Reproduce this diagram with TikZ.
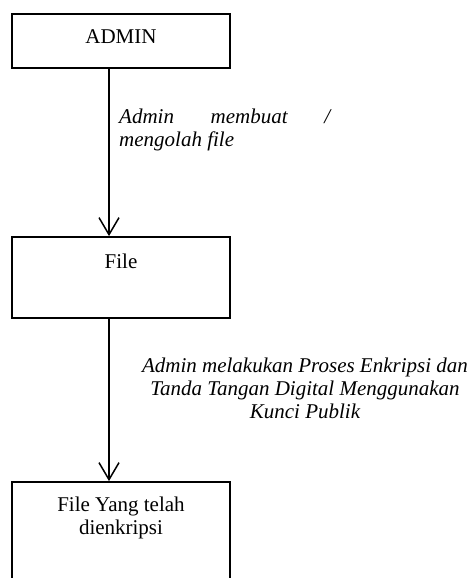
\documentclass[tikz,border=0pt]{standalone}
\usepackage{fontspec}
\setmainfont{Liberation Serif}
\usetikzlibrary{arrows.meta}
\begin{document}
\begin{tikzpicture}[x=1pt,y=-1pt,
 box/.style={draw, line width=1.8pt, minimum width=218pt, inner sep=0pt},
 txt/.style={font=\fontsize{21}{23}\selectfont, anchor=base, inner sep=0pt},
 lbl/.style={font=\fontsize{21}{23}\selectfont\itshape, inner sep=0pt},
 arr/.style={line width=1.5pt, -{Straight Barb[length=17pt,width=20pt,line width=1.5pt]}}]
\useasboundingbox (0,0) rectangle (471,578);
\clip (0,0) rectangle (471,578);
% boxes
\node[box, minimum height=54pt] (admin) at (121,41) {};
\node[box, minimum height=81pt] (file) at (121,277.5) {};
\node[box, minimum height=130pt] (enc) at (121,547) {};
% box texts
\node[txt] (admintxt) at (121,44) {ADMIN};
\node[txt] (filetxt) at (121,268) {File};
\node[txt] (enctxt1) at (121,511) {File Yang telah};
\node[txt] (enctxt2) at (121,534) {dienkripsi};
% arrow x position
\coordinate (ax) at (109,0);
\draw[arr] (admin.south -| ax) -- (file.north -| ax);
\draw[arr] (file.south -| ax) -- (enc.north -| ax);
% labels
\node[lbl, anchor=base west] (l1a) at (119,123) {\makebox[211pt][s]{Admin membuat /}};
\node[lbl, anchor=base west] (l1b) at (119,146) {mengolah file};
\node[lbl, anchor=base] (l2a) at (305,372) {Admin melakukan Proses Enkripsi dan};
\node[lbl, anchor=base] (l2b) at (305,395) {Tanda Tangan Digital Menggunakan};
\node[lbl, anchor=base] (l2c) at (305,418) {Kunci Publik};
\end{tikzpicture}
\end{document}
